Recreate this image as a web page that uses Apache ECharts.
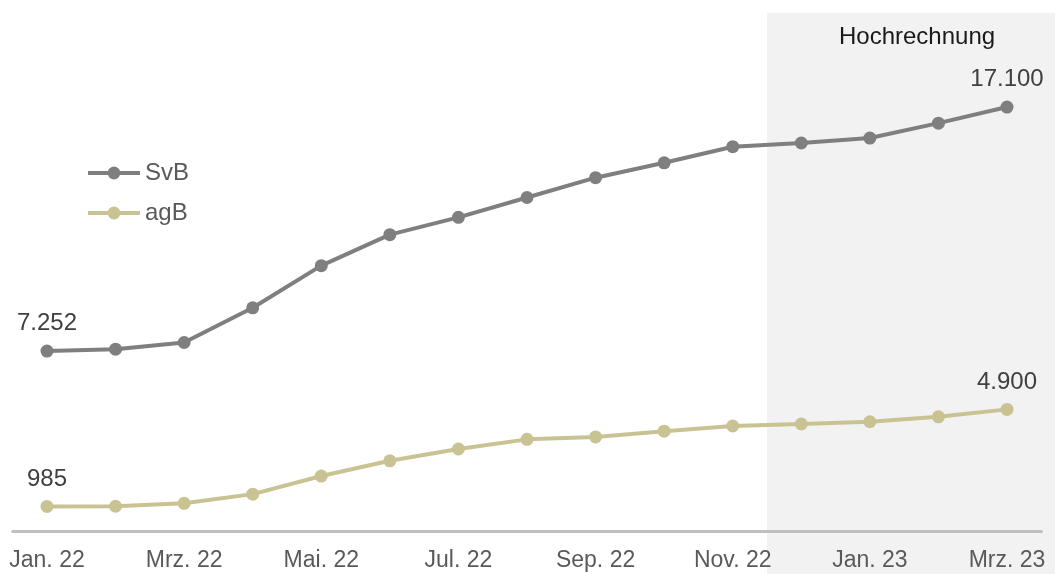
<!DOCTYPE html>
<html>
<head>
<meta charset="utf-8">
<script src="https://cdn.jsdelivr.net/npm/echarts@6/dist/echarts.min.js"></script>
<style>
html,body{margin:0;padding:0;background:#fff;}
#chart{width:1055px;height:574px;}
</style>
</head>
<body>
<div id="chart"></div>
<script>
const categories = ['Jan. 22','Feb. 22','Mrz. 22','Apr. 22','Mai. 22','Jun. 22','Jul. 22','Aug. 22','Sep. 22','Okt. 22','Nov. 22','Dez. 22','Jan. 23','Feb. 23','Mrz. 23'];
const svb = [7252, 7330, 7600, 9000, 10700, 11950, 12650, 13450, 14250, 14850, 15500, 15650, 15850, 16450, 17100];
const agb = [985, 990, 1110, 1480, 2210, 2825, 3300, 3690, 3790, 4020, 4230, 4310, 4400, 4600, 4900];
const forecastStart = 'Dez. 22';
const forecastLabel = 'Hochrechnung';

const fmt = v => v.toLocaleString('de-DE');
function withEndLabels(arr){
  return arr.map((v,i)=>{
    const show = (i===0 || i===arr.length-1);
    return {value:v, label:{show:show}};
  });
}

const chart = echarts.init(document.getElementById('chart'), null, {renderer:'canvas'});
const FONT = 'Liberation Sans, Arial, sans-serif';
const labelStyle = {
  position:'top', distance:9, color:'#404040', fontSize:24, fontFamily:FONT,
  formatter: p => fmt(p.value)
};
const option = {
  animation:false,
  backgroundColor:'#ffffff',
  title:{
    text: forecastLabel, left:834, top:20,
    textStyle:{fontSize:24, fontWeight:'normal', color:'#1a1a1a', fontFamily:FONT}
  },
  legend:{
    orient:'vertical', left:81, top:156, itemGap:16,
    itemWidth:52, itemHeight:16,
    lineStyle:{width:4},
    textStyle:{fontSize:24, color:'#595959', fontFamily:FONT},
    data:['SvB','agB']
  },
  grid:{left:12.7, right:13.7, top:35.2, bottom:43.2, containLabel:false},
  xAxis:{
    type:'category', data:categories, boundaryGap:true,
    axisLine:{show:true, lineStyle:{color:'#bfbfbf', width:3}},
    axisTick:{show:false},
    axisLabel:{interval:1, margin:18, color:'#595959', fontSize:23, fontFamily:FONT},
    splitLine:{show:false}
  },
  yAxis:{type:'value', min:0, max:20000, show:false, splitLine:{show:false}},
  series:[
    {name:'SvB', type:'line', data:withEndLabels(svb), symbol:'circle', symbolSize:13,
     color:'#7f7f7f', lineStyle:{width:4, color:'#7f7f7f'}, itemStyle:{color:'#7f7f7f'},
     label:labelStyle, z:3},
    {name:'agB', type:'line', data:withEndLabels(agb), symbol:'circle', symbolSize:13,
     color:'#c9c394', lineStyle:{width:4, color:'#c9c394'}, itemStyle:{color:'#c9c394'},
     label:labelStyle, z:3}
  ]
};
chart.setOption(option);

// shaded forecast area, derived from the category axis
const idx = categories.indexOf(forecastStart);
const x1 = chart.convertToPixel({xAxisIndex:0}, categories[idx]);
const x0 = chart.convertToPixel({xAxisIndex:0}, categories[idx-1]);
const shadeLeft = (x0 + x1) / 2;
chart.setOption({
  graphic:{elements:[{
    type:'rect', z:-100, silent:true,
    shape:{x:shadeLeft, y:13, width:chart.getWidth()-shadeLeft, height:chart.getHeight()-13},
    style:{fill:'#f2f2f2'}
  }]}
});
</script>
</body>
</html>
